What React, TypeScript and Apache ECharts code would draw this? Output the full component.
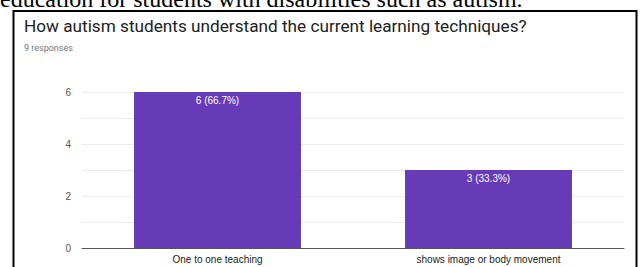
import React, { useEffect, useRef } from "react";
import * as echarts from "echarts";

const categories = ["One to one teaching", "shows image or body movement"];
const counts = [6, 3];
const totalResponses = 9;
const titleText = "How autism students understand the current learning techniques?";
const subText = "9 responses";
const captionText = "education for students with disabilities such as autism.";

export default function App() {
  const ref = useRef<HTMLDivElement>(null);
  useEffect(() => {
    if (!ref.current) return;
    const chart = echarts.init(ref.current, null, { renderer: "svg" });
    chart.setOption({
      animation: false,
      backgroundColor: "#ffffff",
      title: {
        text: titleText,
        subtext: subText,
        left: 19,
        top: 12,
        itemGap: 9,
        textStyle: { fontFamily: "Roboto", fontSize: 17.2, fontWeight: "normal", color: "#202124" },
        subtextStyle: { fontFamily: "Roboto", fontSize: 9, color: "#757575" },
      },
      graphic: [
        {
          type: "text",
          left: 0,
          top: -13,
          style: { text: captionText, fontFamily: "Liberation Serif", fontSize: 24, fill: "#000" },
        },
        {
          type: "rect",
          shape: { x: 13.5, y: 11, width: 623, height: 275 },
          style: { fill: "none", stroke: "#000", lineWidth: 2 },
          z: 100,
        },
      ],
      grid: { left: 82, right: 17, top: 92, bottom: 19 },
      xAxis: {
        type: "category",
        data: categories,
        axisTick: { show: false },
        axisLine: { lineStyle: { color: "#555", width: 1 } },
        axisLabel: { fontFamily: "Liberation Sans", fontSize: 10, color: "#222", margin: 6 },
      },
      yAxis: {
        type: "value",
        min: 0,
        max: 6,
        interval: 1,
        axisLine: { show: false },
        axisTick: { show: false },
        splitLine: { lineStyle: { color: "#ececec" } },
        axisLabel: {
          fontFamily: "Liberation Sans",
          fontSize: 10,
          color: "#555",
          margin: 11,
          formatter: (v: number) => (v % 2 === 0 ? String(v) : ""),
        },
      },
      series: [
        {
          type: "bar",
          data: counts,
          barWidth: "61.6%",
          itemStyle: { color: "#673ab7" },
          label: {
            show: true,
            position: "insideTop",
            distance: 3,
            color: "#ffffff",
            fontFamily: "Liberation Sans",
            fontSize: 10,
            formatter: (p: any) =>
              `${p.value} (${((p.value / totalResponses) * 100).toFixed(1)}%)`,
          },
        },
      ],
    });
    return () => chart.dispose();
  }, []);
  return (
    <div
      ref={ref}
      style={{ position: "fixed", left: 0, top: 0, width: 641, height: 267 }}
    />
  );
}
